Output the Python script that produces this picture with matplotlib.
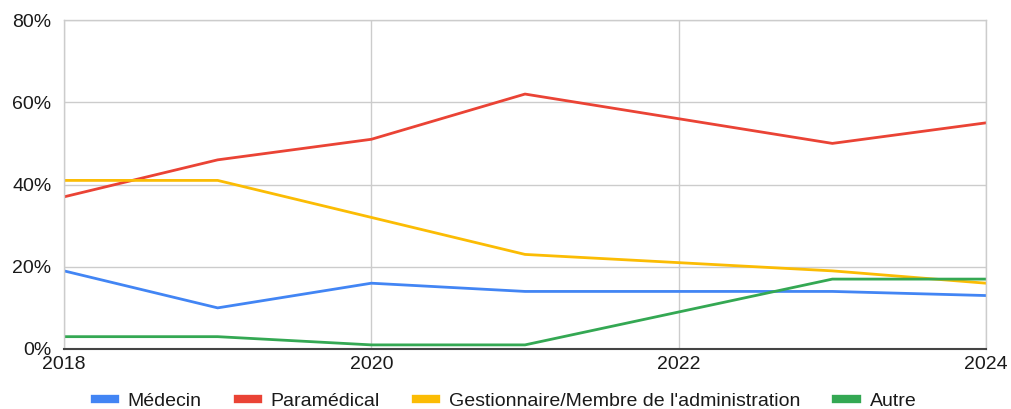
import matplotlib.pyplot as plt
from matplotlib.ticker import FuncFormatter

plt.rcParams['font.family'] = ['Liberation Sans', 'DejaVu Sans']

years = [2018, 2019, 2020, 2021, 2022, 2023, 2024]
medecin = [19, 10, 16, 14, 14, 14, 13]
paramedical = [37, 46, 51, 62, 56, 50, 55]
gestionnaire = [41, 41, 32, 23, 21, 19, 16]
autre = [3, 3, 1, 1, 9, 17, 17]

labels = ['Médecin', 'Paramédical', "Gestionnaire/Membre de l'administration", 'Autre']
colors = ['#4285F4', '#EA4335', '#FBBC04', '#34A853']

fig = plt.figure(figsize=(10.11, 4.09), dpi=100)
ax = fig.add_axes([0.0633, 0.1467, 0.912, 0.8043])

for vals, lab, col in zip([medecin, paramedical, gestionnaire, autre], labels, colors):
    ax.plot(years, vals, color=col, lw=2, label=lab, solid_joinstyle='round')

ax.set_xlim(2018, 2024)
ax.set_ylim(0, 80)
ax.set_xticks([2018, 2020, 2022, 2024])
ax.set_yticks([0, 20, 40, 60, 80])
ax.yaxis.set_major_formatter(FuncFormatter(lambda v, p: '%d%%' % v))
ax.grid(True, color='#cccccc', lw=1)
ax.set_axisbelow(True)

for s in ['top', 'right', 'left']:
    ax.spines[s].set_color('#cccccc')
    ax.spines[s].set_linewidth(1)
ax.spines['bottom'].set_color('#444444')
ax.spines['bottom'].set_linewidth(1.5)
ax.tick_params(length=0, labelsize=14, colors='#1a1a1a')
ax.tick_params(axis='y', pad=9)
ax.tick_params(axis='x', pad=5)

leg = fig.legend(loc='lower center', ncol=4, frameon=False, fontsize=14,
                 bbox_to_anchor=(0.5, -0.045), handlelength=1.05, columnspacing=1.85,
                 handletextpad=0.65)
for h in leg.legend_handles:
    h.set_linewidth(6)
for t in leg.get_texts():
    t.set_color('#1a1a1a')

fig.savefig('out.png', dpi=100)
